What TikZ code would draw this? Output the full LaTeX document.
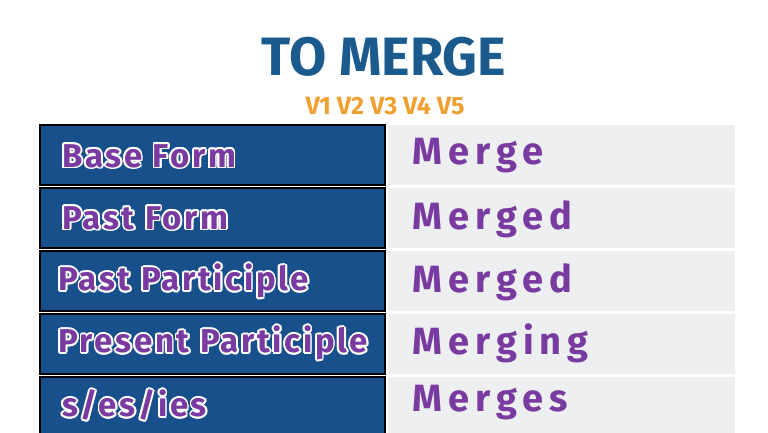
\documentclass[tikz,border=0pt]{standalone}
\usepackage{fontspec}
\setmainfont{Fira Sans}
\usetikzlibrary{calc}
\definecolor{cellblue}{HTML}{17508A}
\definecolor{cellgray}{HTML}{EDEFF1}
\definecolor{vpurple}{HTML}{7A3BA0}
\definecolor{vorange}{HTML}{F0A030}
\definecolor{tblue}{HTML}{1A5A8C}
\tikzset{
  leftcell/.style={draw=black,line width=1.5pt,fill=cellblue},
  rightcell/.style={fill=cellgray},
  lbl/.style={anchor=west,font=\fontsize{33}{34}\selectfont\bfseries\addfontfeatures{LetterSpace=8},inner sep=0pt},
  val/.style={anchor=west,font=\fontsize{38}{40}\selectfont\bfseries\addfontfeatures{LetterSpace=16},text=vpurple,inner sep=0pt},
}
\newcommand{\outlined}[4]{% name, x, y, text
  \foreach \ang in {0,30,...,330}{\node[lbl,text=white] at ($(#2,#3)+(\ang:1.8)$) {#4};}
  \node[lbl,text=vpurple] (#1) at (#2,#3) {#4};
}
\begin{document}
\begin{tikzpicture}[x=1pt,y=-1pt]
\useasboundingbox[fill=white] (0,0) rectangle (768,432);
\node[font=\fontsize{54}{56}\selectfont\bfseries,text=tblue] (title) at (384,57) {TO MERGE};
\node[font=\fontsize{25}{26}\selectfont\bfseries,text=vorange] (vs) at (385,106) {V1 V2 V3 V4 V5};
\foreach \i/\t in {0/125,1/188,2/251,3/314,4/377}{
  \fill[rightcell] (388,\t) rectangle (735,\t+60);
  \draw[leftcell] (40,\t) rectangle (385,\t+60);
}
\outlined{l1}{62}{156}{Base Form}
\outlined{l2}{62}{218}{Past Form}
\outlined{l3}{58}{281}{Past Participle}
\outlined{l4}{58}{343}{Present Participle}
\outlined{l5}{62}{405}{s/es/ies}
\node[val] (r1) at (412,156) {Merge};
\node[val] (r2) at (412,219) {Merged};
\node[val] (r3) at (412,282) {Merged};
\node[val] (r4) at (412,343) {Merging};
\node[val] (r5) at (412,403) {Merges};
\end{tikzpicture}
\end{document}
